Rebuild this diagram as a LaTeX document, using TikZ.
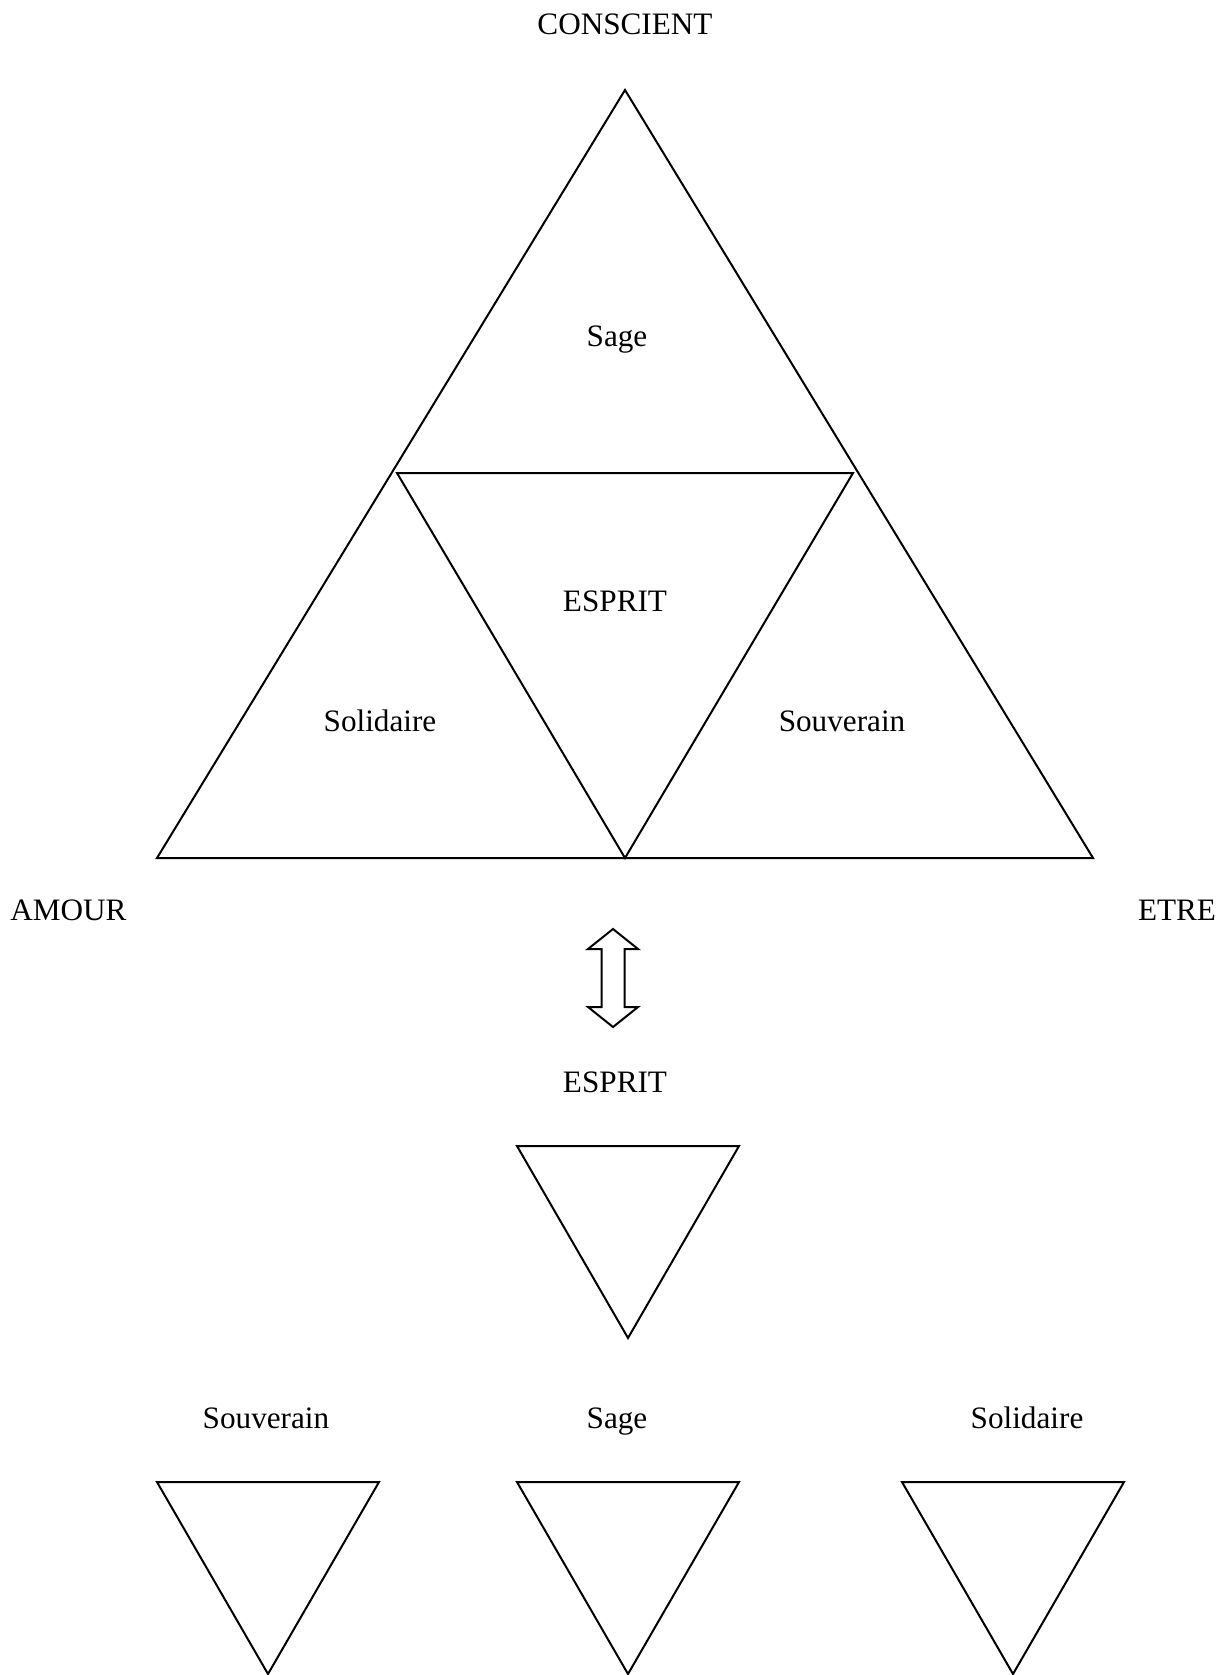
\documentclass[tikz,border=0pt]{standalone}
\usepackage{fontspec}
\setmainfont{Liberation Serif}
\usepackage{tikz}

\begin{document}
\begin{tikzpicture}
		[
			x=0.5pt, y=-0.5pt,
			txt/.style = {anchor=base, inner sep=0pt, font=\fontsize{15.6}{18}\selectfont},
			tri/.style = {draw=black, line width=1pt, line join=miter},
		]
		\useasboundingbox (0,0) rectangle (1221,1675);

		% big triangle and inner one
		\coordinate (top) 	at (  625,   90 );
		\coordinate (bl) 	at (  157,  858 );
		\coordinate (br) 	at ( 1093,  858 );
		\coordinate (il) 	at (  397,  473 );
		\coordinate (ir) 	at (  853,  473 );
		\coordinate (ib) 	at (  625,  858 );
		\draw[tri] (top) -- (bl) -- (br) -- cycle;
		\draw[tri] (il) -- (ir) -- (ib) -- cycle;

		% labels
		\node[txt] (conscient) 	at (  625,   35 ) {CONSCIENT};
		\node[txt] (sage) 		at (  617,  346 ) {Sage};
		\node[txt] (esprit) 	at (  615,  611 ) {ESPRIT};
		\node[txt] (solid) 		at (  380,  731 ) {Solidaire};
		\node[txt] (souv) 		at (  842,  731 ) {Souverain};
		\node[txt] (amour) 		at ( 68.5,  920 ) {AMOUR};
		\node[txt] (etre) 		at ( 1177,  920 ) {ETRE};
		\node[txt] (esprittwo) 	at (  615, 1092 ) {ESPRIT};
		\node[txt] (souvtwo) 	at (  266, 1428 ) {Souverain};
		\node[txt] (sagetwo) 	at (  617, 1428 ) {Sage};
		\node[txt] (solidtwo) 	at ( 1027, 1428 ) {Solidaire};

		% double arrow
		\coordinate (arr) at (613, 978);
		\draw[tri] (arr) ++(0,-49) -- ++(25,20) -- ++(-13.5,0) -- ++(0,58) -- ++(13.5,0)
			-- ++(-25,20) -- ++(-25,-20) -- ++(13.5,0) -- ++(0,-58) -- ++(-13.5,0) -- cycle;

		% small triangles
		\foreach \cx/\ty in {628/1146, 268/1482, 628/1482, 1013/1482}
		\draw[tri] (\cx-111, \ty) -- (\cx+111, \ty) -- (\cx, \ty+192) -- cycle;

		\end{tikzpicture}
\end{document}
